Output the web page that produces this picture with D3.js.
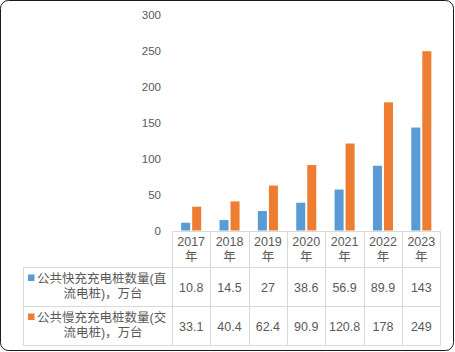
<!DOCTYPE html>
<html><head><meta charset="utf-8">
<script src="https://cdn.jsdelivr.net/npm/d3@7"></script>
<style>body{margin:0;background:#fff}svg{display:block}</style>
</head><body>
<script>
const years = ["2017","2018","2019","2020","2021","2022","2023"];
const seriesNames = ["公共快充充电桩数量(直流电桩)，万台","公共慢充充电桩数量(交流电桩)，万台"];
const seriesLines = [["公共快充充电桩数量(直","流电桩)，万台"],["公共慢充充电桩数量(交","流电桩)，万台"]];
const fastValues = [10.8,14.5,27,38.6,56.9,89.9,143];
const slowValues = [33.1,40.4,62.4,90.9,120.8,178,249];
const valueLabels = [["10.8","14.5","27","38.6","56.9","89.9","143"],["33.1","40.4","62.4","90.9","120.8","178","249"]];
const yTicks = [0,50,100,150,200,250,300];
const colors = ["#5b9bd5","#ed7d31"];

const W=455,H=352;
const font = "'Liberation Sans','Noto Sans CJK SC',sans-serif";
const txt = "#595959", grid="#d9d9d9";
const svg = d3.select("body").append("svg").attr("width",W).attr("height",H);

svg.append("rect").attr("x",0.5).attr("y",0.5).attr("width",W-2).attr("height",H-2)
  .attr("rx",8).attr("fill","#fff").attr("stroke","#1a1a1a");

const x0 = d3.scaleBand().domain(years).range([172,440.5]);
const x1 = d3.scaleBand().domain([0,1]).range([0,x0.bandwidth()]).paddingInner(0.18).paddingOuter(0.83);
const y = d3.scaleLinear().domain([0,300]).range([230.5,14.5]);

const data = [fastValues, slowValues];
data.forEach((vals,si)=>{
  svg.append("g").selectAll("rect").data(vals).join("rect")
    .attr("x",(d,i)=>x0(years[i])+x1(si))
    .attr("width",x1.bandwidth())
    .attr("y",d=>y(d))
    .attr("height",d=>y(0)-y(d))
    .attr("fill",colors[si]);
});

const ya = svg.append("g").attr("transform","translate(161,0)")
  .call(d3.axisLeft(y).tickValues(yTicks).tickSize(0).tickPadding(0));
ya.select(".domain").remove();
ya.selectAll("text").attr("fill",txt).style("font-family",font).style("font-size","11.5px");

// table
const tg = svg.append("g").attr("stroke",grid).attr("stroke-width",1).attr("fill","none");
const left=23.5, x0l=172.5, right=440.5;
const rows=[231.5,267.5,306.5,345.5];
tg.append("line").attr("x1",x0l).attr("x2",right).attr("y1",rows[0]).attr("y2",rows[0]);
[1,2,3].forEach(r=>tg.append("line").attr("x1",left).attr("x2",right).attr("y1",rows[r]).attr("y2",rows[r]));
tg.append("line").attr("x1",left).attr("x2",left).attr("y1",rows[1]).attr("y2",rows[3]);
years.forEach(yr=>{
  const xx=Math.round(x0(yr))+0.5;
  tg.append("line").attr("x1",xx).attr("x2",xx).attr("y1",rows[0]).attr("y2",rows[3]);
});
tg.append("line").attr("x1",right).attr("x2",right).attr("y1",rows[0]).attr("y2",rows[3]);

const tt = svg.append("g").attr("fill",txt).style("font-family",font).style("font-size","12.5px").attr("text-anchor","middle");
years.forEach(yr=>{
  const cx = x0(yr)+x0.bandwidth()/2;
  tt.append("text").attr("x",cx).attr("y",245.5).text(yr);
  tt.append("text").attr("x",cx).attr("y",261).text("年");
  valueLabels.forEach((vl,si)=>{
    tt.append("text").attr("x",cx).attr("y",[291.5,330.5][si]).text(vl[years.indexOf(yr)]);
  });
});
seriesLines.forEach((lines,si)=>{
  const yy=[282.5,321.5][si];
  svg.append("rect").attr("x",28).attr("y",yy-8).attr("width",6.5).attr("height",6.5).attr("fill",colors[si]);
  tt.append("text").attr("x",37).attr("y",yy).attr("text-anchor","start").text(lines[0]);
  tt.append("text").attr("x",103).attr("y",yy+15.5).text(lines[1]);
});
</script>
</body></html>
